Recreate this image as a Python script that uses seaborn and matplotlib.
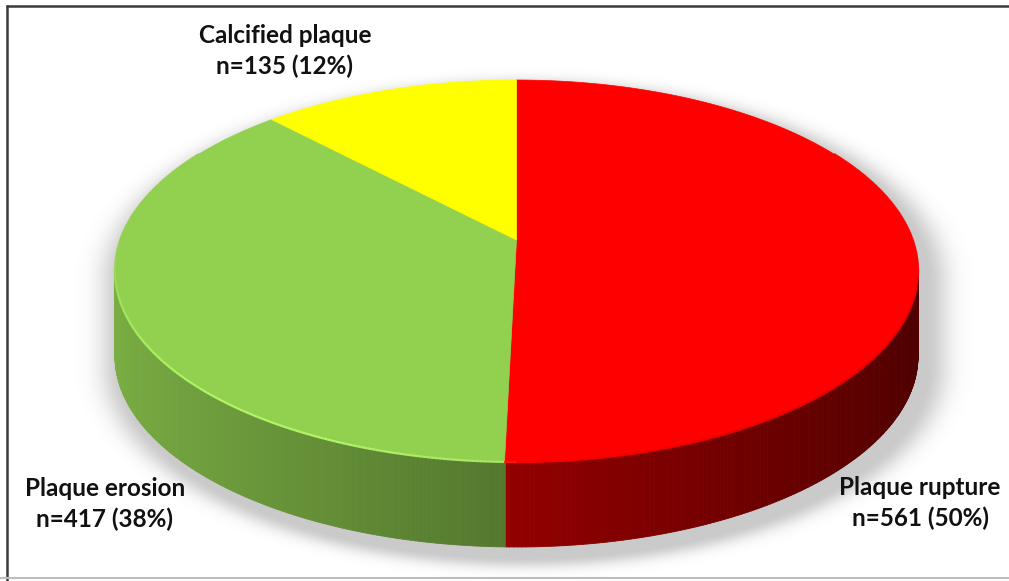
import numpy as np
import matplotlib
matplotlib.use("Agg")
import matplotlib.pyplot as plt
import seaborn as sns
from matplotlib.patches import Polygon
from matplotlib.collections import PolyCollection, LineCollection
from matplotlib.colors import to_rgb

# Plaque morphology counts
categories = ["Plaque rupture", "Plaque erosion", "Calcified plaque"]
counts = [561, 417, 135]
percents = [50, 38, 12]
colors = ["#FF0000", "#92D050", "#FFFF00"]

sns.set_theme(style="white")
plt.rcParams["font.family"] = ["Lato", "DejaVu Sans"]

W, H = 1009, 581
fig = plt.figure(figsize=(W / 100, H / 100), dpi=100)
ax = fig.add_axes([0, 0, 1, 1])
ax.set_xlim(0, W)
ax.set_ylim(H, 0)
ax.axis("off")

# 3-D disc seen in perspective (pixel units)
cx, R, depth = 516.5, 396.2, 85
pa, pb, pc = 147.0, 240.0, -0.1623   # vertical projective mapping of the disc


def project(u, v):
    w = 1.0 + pc * v
    y = (pa * v + pb) / w
    x = cx + R * u / w
    return x, y


def rim(theta_deg):
    t = np.radians(theta_deg)
    return project(np.sin(t), -np.cos(t))


centre = project(0.0, 0.0)

# wedge angles, clockwise from 12 o'clock
fractions = np.array(counts, dtype=float) / np.sum(counts)
edges = np.concatenate([[0.0], np.cumsum(fractions) * 360.0])


def wedge_index(theta):
    return int(np.clip(np.searchsorted(edges, theta % 360.0, side="right") - 1, 0, len(counts) - 1))


# silhouette limits of the front wall
fine = np.linspace(0, 360, 7201)
fx, fy = rim(fine)
th_right = fine[np.argmax(fx)]
th_left = fine[np.argmin(fx)]

# soft drop shadow under the disc
ecx = (fx.max() + fx.min()) / 2
erx = (fx.max() - fx.min()) / 2
ecy = (fy.max() + fy.min()) / 2
ery = (fy.max() - fy.min()) / 2
gx, gy = np.meshgrid(np.arange(W) + 0.5, np.arange(H) + 0.5)
sx, sy = 8.0, 10.0
yc = np.clip(gy - sy, ecy, ecy + depth)
r = np.sqrt(((gx - sx - ecx) / erx) ** 2 + ((gy - sy - yc) / ery) ** 2)
dist = np.clip((r - 1.0) * ery, 0, None)
alpha = 0.32 * np.exp(-(dist / 11.0) ** 2)
shadow = np.zeros((H, W, 4))
shadow[..., :3] = 0.35
shadow[..., 3] = alpha
ax.imshow(shadow, extent=[0, W, H, 0], zorder=0, interpolation="bilinear")

# curved side wall, shaded by direction
step = 0.5
polys, fcols = [], []
for th in np.arange(th_right, th_left, step):
    th2 = min(th + step, th_left)
    x0, y0 = rim(th)
    x1, y1 = rim(th2)
    polys.append([(x0, y0), (x1, y1), (x1, y1 + depth), (x0, y0 + depth)])
    mid = (th + th2) / 2
    base = np.array(to_rgb(colors[wedge_index(mid)]))
    f = 0.57 - 0.27 * np.sin(np.radians(mid))
    fcols.append(np.clip(base * f, 0, 1))
ax.add_collection(PolyCollection(polys, facecolors=fcols, edgecolors=fcols,
                                 linewidths=0.6, zorder=1))

# top face wedges
for i, col in enumerate(colors):
    th = np.linspace(edges[i], edges[i + 1], 200)
    xs_, ys_ = rim(th)
    pts = np.column_stack([np.r_[centre[0], xs_], np.r_[centre[1], ys_]])
    ax.add_patch(Polygon(pts, closed=True, facecolor=col, edgecolor=col,
                         linewidth=0.5, zorder=2))

# bevel along the front edge of the top face
segs, lcols = [], []
for th in np.arange(60.0, 300.0, step):
    p0 = rim(th)
    p1 = rim(th + step)
    segs.append([p0, p1])
    mid = th + step / 2
    base = np.array(to_rgb(colors[wedge_index(mid)]))
    s = np.sin(np.radians(mid))
    w = np.clip(-np.cos(np.radians(mid)), 0, 1)
    f = 1.0 - 0.22 * s * w
    c = np.clip(base * f + (0.08 * w if s < 0 else 0), 0, 1)
    lcols.append(c)
ax.add_collection(LineCollection(segs, colors=lcols, linewidths=1.6, zorder=3))

# labels
label_pos = {
    "Calcified plaque": (285, 51),
    "Plaque erosion": (105, 504),
    "Plaque rupture": (920, 503),
}
for name, n, p in zip(categories, counts, percents):
    x, y = label_pos[name]
    ax.text(x, y, f"{name}\nn={n} ({p}%)", ha="center", va="center",
            fontsize=17.5, fontweight="bold", color="#111111", linespacing=1.42, zorder=5)

# frame
ax.plot([6, W], [5.5, 5.5], color="#3a3a3a", lw=1.8, solid_capstyle="butt", zorder=6)
ax.plot([7, 7], [5, H], color="#3a3a3a", lw=1.8, solid_capstyle="butt", zorder=6)
ax.plot([0, W], [578, 578], color="#bdbdbd", lw=1.5, zorder=6)

fig.savefig("out.png", dpi=100)
